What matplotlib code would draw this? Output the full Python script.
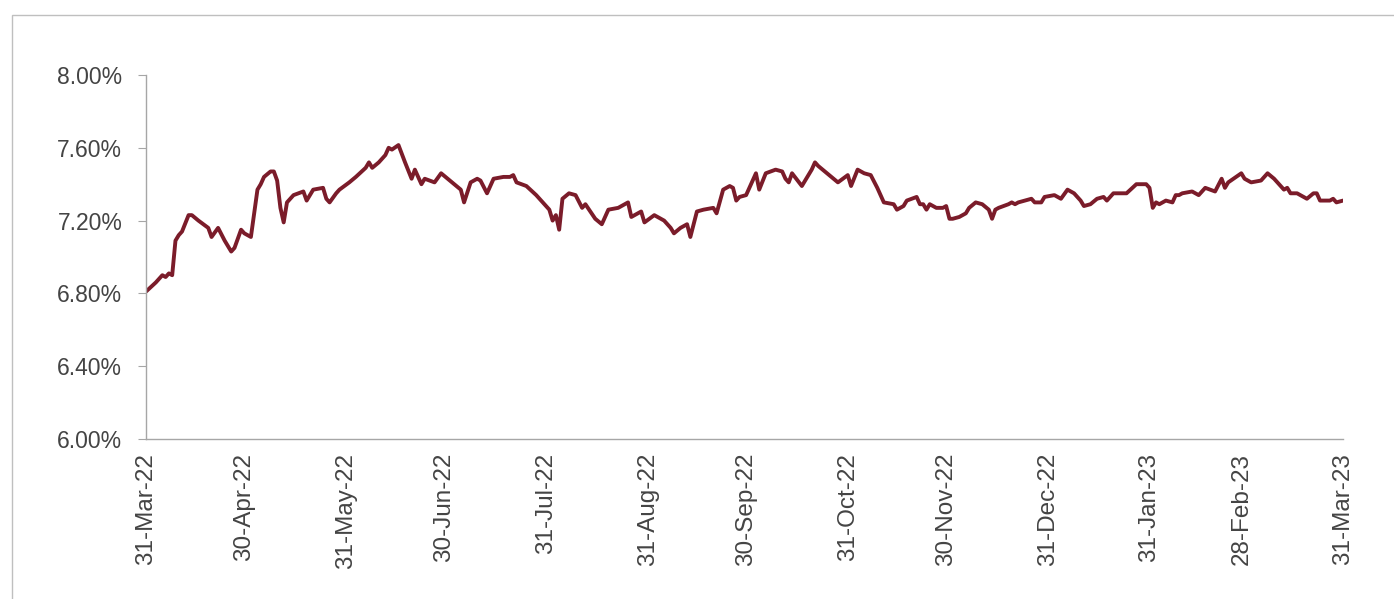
import matplotlib
matplotlib.use("Agg")
import matplotlib.pyplot as plt
from matplotlib.patches import Rectangle
import pandas as pd

# dias contados a partir de 31-Mar-2022 e rendimento (%)
dias = [0, 3, 5, 6, 7, 8, 9, 10, 11, 13, 14, 16, 19, 20, 22, 24, 26, 27, 29, 30,
        32, 34, 35, 36, 38, 39, 40, 41, 42, 43, 45, 48, 49, 51, 54, 55, 56, 58, 59, 62,
        64, 67, 68, 69, 71, 73, 74, 75, 77, 79, 81, 82, 84, 85, 88, 90, 92, 94, 96, 97,
        99, 101, 102, 104, 106, 109, 111, 112, 113, 116, 119, 121, 123, 124, 125, 126, 127, 129, 131, 133,
        134, 137, 139, 141, 144, 147, 148, 151, 152, 155, 158, 160, 161, 163, 165, 166, 168, 170, 173, 174,
        176, 178, 179, 180, 181, 183, 185, 186, 187, 189, 192, 194, 195, 196, 197, 200, 203, 204, 205, 211,
        214, 215, 217, 219, 221, 223, 225, 228, 229, 231, 232, 235, 236, 237, 238, 239, 241, 243, 244, 245,
        246, 248, 250, 251, 253, 255, 257, 258, 259, 260, 263, 264, 265, 266, 270, 271, 273, 274, 277, 279,
        281, 283, 285, 286, 288, 290, 292, 293, 295, 299, 302, 305, 306, 307, 308, 309, 311, 313, 314, 315,
        316, 319, 321, 323, 326, 328, 329, 330, 334, 335, 337, 340, 342, 344, 347, 348, 349, 351, 354, 356,
        357, 358, 361, 362, 363, 365]
rendimento = [6.81, 6.86, 6.90, 6.89, 6.91, 6.90, 7.09, 7.12, 7.14, 7.23, 7.23, 7.20, 7.16, 7.11, 7.16, 7.09, 7.03, 7.05, 7.15, 7.13,
              7.11, 7.37, 7.40, 7.44, 7.47, 7.47, 7.42, 7.27, 7.19, 7.30, 7.34, 7.36, 7.31, 7.37, 7.38, 7.32, 7.30, 7.35, 7.37, 7.41,
              7.44, 7.49, 7.52, 7.49, 7.52, 7.56, 7.60, 7.59, 7.615, 7.52, 7.43, 7.48, 7.40, 7.43, 7.41, 7.46, 7.43, 7.40, 7.37, 7.30,
              7.41, 7.43, 7.42, 7.35, 7.43, 7.44, 7.44, 7.45, 7.41, 7.39, 7.34, 7.30, 7.26, 7.20, 7.23, 7.15, 7.32, 7.35, 7.34, 7.27,
              7.29, 7.21, 7.18, 7.26, 7.27, 7.30, 7.22, 7.25, 7.19, 7.23, 7.20, 7.16, 7.13, 7.16, 7.18, 7.11, 7.25, 7.26, 7.27, 7.24,
              7.37, 7.39, 7.38, 7.31, 7.33, 7.34, 7.42, 7.46, 7.37, 7.46, 7.48, 7.47, 7.43, 7.41, 7.46, 7.39, 7.48, 7.52, 7.50, 7.41,
              7.45, 7.39, 7.48, 7.46, 7.45, 7.38, 7.30, 7.29, 7.26, 7.28, 7.31, 7.33, 7.29, 7.29, 7.26, 7.29, 7.27, 7.27, 7.28, 7.21,
              7.21, 7.22, 7.24, 7.27, 7.30, 7.29, 7.26, 7.21, 7.26, 7.27, 7.29, 7.30, 7.29, 7.30, 7.32, 7.30, 7.30, 7.33, 7.34, 7.32,
              7.37, 7.35, 7.31, 7.28, 7.29, 7.32, 7.33, 7.31, 7.35, 7.35, 7.40, 7.40, 7.38, 7.27, 7.30, 7.29, 7.31, 7.30, 7.34, 7.34,
              7.35, 7.36, 7.34, 7.38, 7.36, 7.43, 7.38, 7.41, 7.46, 7.43, 7.41, 7.42, 7.46, 7.43, 7.37, 7.38, 7.35, 7.35, 7.32, 7.35,
              7.35, 7.31, 7.31, 7.32, 7.30, 7.31]

rotulos = ["31-Mar-22", "30-Apr-22", "31-May-22", "30-Jun-22", "31-Jul-22", "31-Aug-22",
           "30-Sep-22", "31-Oct-22", "30-Nov-22", "31-Dec-22", "31-Jan-23", "28-Feb-23", "31-Mar-23"]
yticks = [6.00, 6.40, 6.80, 7.20, 7.60, 8.00]

inicio = pd.Timestamp("2022-03-31")
datas = [inicio + pd.Timedelta(days=d) for d in dias]
pos_rotulos = list(pd.to_datetime(rotulos, format="%d-%b-%y"))

plt.rcParams["font.family"] = ["Liberation Sans", "DejaVu Sans"]

fig = plt.figure(figsize=(13.94, 5.99), dpi=100)
ax = fig.add_axes([0.1047, 0.2671, 0.8587, 0.6077])

ax.plot(datas, rendimento, color="#7B1C2A", linewidth=2.8,
        solid_joinstyle="round", solid_capstyle="round")

ax.set_xlim(pos_rotulos[0], pos_rotulos[-1])
ax.set_ylim(6.0, 8.0)
ax.set_yticks(yticks)
ax.set_yticklabels(["%.2f%%" % v for v in yticks])
ax.set_xticks(pos_rotulos)
ax.set_xticklabels(rotulos, rotation=90)

for s in ["top", "right"]:
    ax.spines[s].set_visible(False)
for s in ["left", "bottom"]:
    ax.spines[s].set_color("#a6a6a6")
    ax.spines[s].set_linewidth(1)

ax.tick_params(axis="y", length=6, color="#a6a6a6", pad=11, labelsize=16.5, labelcolor="#444444")
ax.tick_params(axis="x", length=0, pad=10, labelsize=17.5, labelcolor="#444444")

# moldura cinza do grafico
fig.patches.append(Rectangle((0.0086, -0.05), 1.1, 1.025, transform=fig.transFigure,
                             fill=False, edgecolor="#bfbfbf", linewidth=1))

plt.savefig("out.png", dpi=100)
